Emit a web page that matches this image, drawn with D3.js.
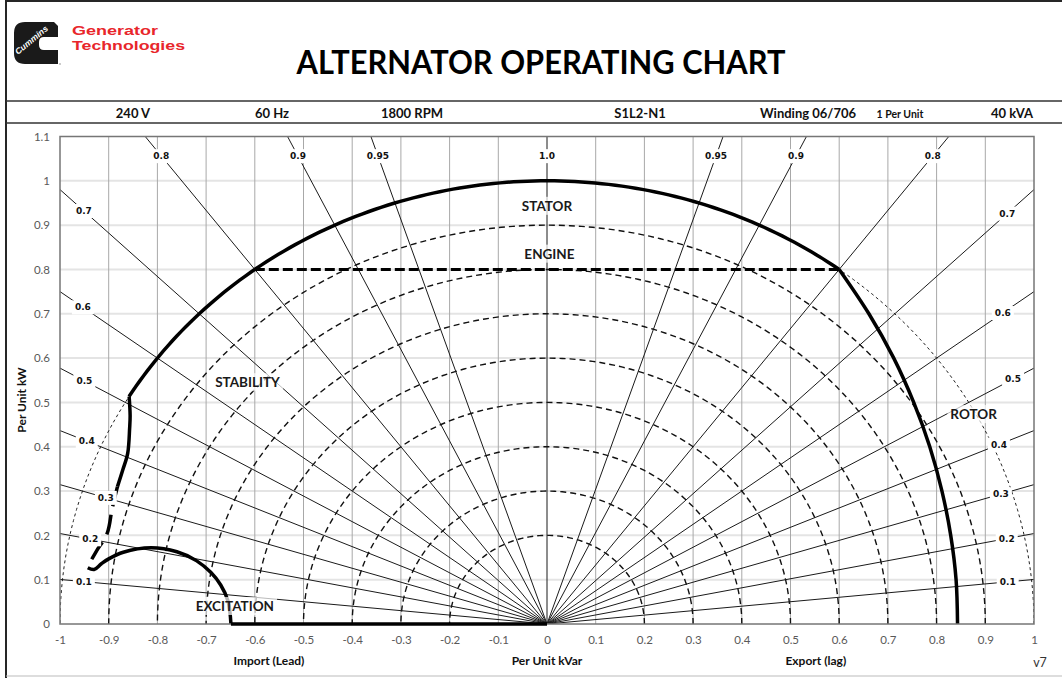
<!DOCTYPE html>
<html lang="en">
<head>
<meta charset="utf-8">
<title>Alternator Operating Chart</title>
<script src="https://cdn.jsdelivr.net/npm/d3@7/dist/d3.min.js"></script>
<style>
body { margin: 0; background: #fff; }
#chart text { font-family: Lato, "Open Sans", sans-serif; }
</style>
</head>
<body>
<div id="chart"></div>
<script>
// ---- data ----
var specText = ['240 V', '60 Hz', '1800 RPM', 'S1L2-N1', 'Winding 06/706', '1 Per Unit', '40 kVA'];
var xTicks = [-1, -0.9, -0.8, -0.7, -0.6, -0.5, -0.4, -0.3, -0.2, -0.1, 0, 0.1, 0.2, 0.3, 0.4, 0.5, 0.6, 0.7, 0.8, 0.9, 1];
var yTicks = [0, 0.1, 0.2, 0.3, 0.4, 0.5, 0.6, 0.7, 0.8, 0.9, 1, 1.1];
var gridX = [-0.9, -0.8, -0.7, -0.6, -0.5, -0.4, -0.3, -0.2, -0.1, 0.1, 0.2, 0.3, 0.4, 0.5, 0.6, 0.7, 0.8, 0.9];
var gridY = [0.1, 0.2, 0.3, 0.4, 0.5, 0.6, 0.7, 0.8, 0.9, 1];

// power factor lines
var pfValues = [0.1, 0.2, 0.3, 0.4, 0.5, 0.6, 0.7, 0.8, 0.9, 0.95, 1.0];
// where the low pf labels sit on their line (kVar)
var pfLabelLeftX = [-0.951, -0.938, -0.906, -0.945, -0.95, -0.953, -0.951];
var pfLabelRightX = [0.946, 0.944, 0.932, 0.928, 0.957, 0.936, 0.945];
var pfLabelTopY = 1.056;

// constant kVA circles
var kvaRadii = [0.2, 0.3, 0.4, 0.5, 0.6, 0.7, 0.8, 0.9];
var statorRadius = 1.0;

// limit curves [kVar, kW]
var statorEnds = [[-0.858, 0.513], [0.6, 0.8]];
var engineLine = [[-0.6, 0.8], [0.6, 0.8]];
var rotorCurve = [[0.6, 0.8], [0.661, 0.7], [0.712, 0.6], [0.753, 0.5], [0.786, 0.4], [0.811, 0.3], [0.829, 0.2], [0.840, 0.1], [0.843, 0]];
var stabilitySolid = [[-0.858, 0.513], [-0.856, 0.47], [-0.857, 0.442], [-0.861, 0.385], [-0.871, 0.348], [-0.882, 0.31]];
var stabilityDashed = [[-0.882, 0.31], [-0.893, 0.26], [-0.903, 0.205], [-0.926, 0.163], [-0.943, 0.13]];
var excitationCurve = [[-0.943, 0.127], [-0.93, 0.123], [-0.915, 0.136], [-0.9, 0.147], [-0.87, 0.162], [-0.813, 0.172], [-0.76, 0.163], [-0.72, 0.143], [-0.69, 0.116], [-0.67, 0.088], [-0.655, 0.052], [-0.649, 0]];
var baseLine = [[-0.649, 0], [0, 0]];

var regionNames = ['STATOR', 'ENGINE', 'STABILITY', 'ROTOR', 'EXCITATION'];
var regionAt = [[0, 0.943], [0.005, 0.835], [-0.615, 0.545], [0.876, 0.473], [-0.641, 0.04]];

// ---- layout ----
var W = 1062, H = 678;
var plot = { left: 60, right: 1034, top: 136.5, bottom: 624 };

var svg = d3.select('#chart').append('svg')
  .attr('width', W)
  .attr('height', H)
  .style('display', 'block');

var x = d3.scaleLinear().domain([-1, 1]).range([plot.left, plot.right]);
var y = d3.scaleLinear().domain([0, 1.1]).range([plot.bottom, plot.top]);

// page frame
svg.append('line').attr('x1', 6).attr('x2', 6).attr('y1', 0).attr('y2', H)
  .attr('stroke', '#262626').attr('stroke-width', 2);
svg.append('line').attr('x1', 6).attr('x2', W).attr('y1', 1).attr('y2', 1)
  .attr('stroke', '#262626').attr('stroke-width', 2);
svg.append('line').attr('x1', 6).attr('x2', W).attr('y1', 101).attr('y2', 101)
  .attr('stroke', '#333').attr('stroke-width', 1.5);
svg.append('line').attr('x1', 6).attr('x2', W).attr('y1', 123).attr('y2', 123)
  .attr('stroke', '#333').attr('stroke-width', 1.5);
svg.append('line').attr('x1', 6).attr('x2', W).attr('y1', 676).attr('y2', 676)
  .attr('stroke', '#bbb').attr('stroke-width', 1);

// logo
var logo = svg.append('g').attr('transform', 'translate(14,22)');
logo.append('path')
  .attr('d', 'M11,0 H40 L44,4 V15 H30 Q25,15 25,20 V23 Q25,28 30,28 H44 V42 H11 Q0,42 0,31 V11 Q0,0 11,0 Z')
  .attr('fill', '#1a1a1a');
logo.append('text')
  .attr('transform', 'translate(4,33) rotate(-40)')
  .attr('fill', '#fff')
  .attr('textLength', 40).attr('lengthAdjust', 'spacingAndGlyphs')
  .style('font-family', 'Liberation Sans, Arial, sans-serif')
  .style('font-size', '8.5px')
  .style('font-weight', 'bold')
  .style('font-style', 'italic')
  .text('Cummins');
logo.append('circle').attr('cx', 46).attr('cy', 42).attr('r', 0.8).attr('fill', '#888');
svg.append('text').attr('x', 72).attr('y', 34.5)
  .attr('fill', '#e8262b')
  .attr('textLength', 86).attr('lengthAdjust', 'spacingAndGlyphs')
  .style('font-family', 'Liberation Sans, Arial, sans-serif')
  .style('font-size', '13.5px').style('font-weight', 'bold')
  .text('Generator');
svg.append('text').attr('x', 72).attr('y', 50)
  .attr('fill', '#e8262b')
  .attr('textLength', 113).attr('lengthAdjust', 'spacingAndGlyphs')
  .style('font-family', 'Liberation Sans, Arial, sans-serif')
  .style('font-size', '13.5px').style('font-weight', 'bold')
  .text('Technologies');

svg.append('text').attr('x', 541).attr('y', 74)
  .attr('text-anchor', 'middle')
  .attr('textLength', 489).attr('lengthAdjust', 'spacingAndGlyphs')
  .style('font-size', '32px').style('font-weight', 'bold')
  .attr('fill', '#000')
  .text('ALTERNATOR OPERATING CHART');

// spec row
var specX = [133, 272, 412, 640, 808, 900, 1012];
svg.append('g').selectAll('text')
  .data(specText)
  .enter().append('text')
  .attr('x', function(d, i) { return specX[i]; })
  .attr('y', 118)
  .attr('text-anchor', 'middle')
  .style('font-size', function(d, i) { return i == 5 ? '10.5px' : '13px'; })
  .style('font-weight', 'bold')
  .attr('fill', '#111')
  .text(function(d) { return d; });

// clip for plot area
svg.append('clipPath').attr('id', 'plotclip')
  .append('rect')
  .attr('x', plot.left).attr('y', plot.top)
  .attr('width', plot.right - plot.left).attr('height', plot.bottom - plot.top);

var g = svg.append('g');
var inner = g.append('g').attr('clip-path', 'url(#plotclip)');

// grid
inner.selectAll('.gy').data(gridY).enter().append('line')
  .attr('x1', plot.left).attr('x2', plot.right)
  .attr('y1', function(d) { return y(d); }).attr('y2', function(d) { return y(d); })
  .attr('stroke', '#e4e4e4').attr('stroke-width', 2);
inner.selectAll('.gx').data(gridX).enter().append('line')
  .attr('x1', function(d) { return x(d); }).attr('x2', function(d) { return x(d); })
  .attr('y1', plot.top).attr('y2', plot.bottom)
  .attr('stroke', '#a8a8a8').attr('stroke-width', 1);

// circle path through the scales
function arcPath(r, a0, a1) {
  var pts = d3.range(0, 121).map(function(i) {
    var a = a0 + (a1 - a0) * i / 120;
    return [r * Math.cos(a), r * Math.sin(a)];
  });
  return d3.line().x(function(d) { return x(d[0]); }).y(function(d) { return y(d[1]); })(pts);
}

// thin dashed stator circle
inner.append('path')
  .attr('d', arcPath(statorRadius, 0, Math.PI))
  .attr('fill', 'none').attr('stroke', '#222').attr('stroke-width', 1)
  .attr('stroke-dasharray', '3,3');

// kVA circles
inner.selectAll('.kva').data(kvaRadii).enter().append('path')
  .attr('d', function(r) { return arcPath(r, 0, Math.PI); })
  .attr('fill', 'none').attr('stroke', '#111').attr('stroke-width', 1.4)
  .attr('stroke-dasharray', '6,4');

// pf lines (both sides)
var pfLines = [];
pfValues.forEach(function(pf, i) {
  var q = Math.sqrt(1 - pf * pf);
  pfLines.push({ pf: pf, q: -q, i: i });
  if (q > 0) pfLines.push({ pf: pf, q: q, i: i });
});
inner.selectAll('.pf').data(pfLines).enter().append('line')
  .attr('x1', x(0)).attr('y1', y(0))
  .attr('x2', function(d) { return x(d.q * 3); })
  .attr('y2', function(d) { return y(d.pf * 3); })
  .attr('stroke', '#1a1a1a').attr('stroke-width', 1);

// limit curves
var line = d3.line().x(function(d) { return x(d[0]); }).y(function(d) { return y(d[1]); });
var smooth = d3.line().curve(d3.curveCatmullRom).x(function(d) { return x(d[0]); }).y(function(d) { return y(d[1]); });

var a0 = Math.atan2(statorEnds[1][1], statorEnds[1][0]);
var a1 = Math.atan2(statorEnds[0][1], statorEnds[0][0]);
g.append('path').attr('d', arcPath(statorRadius, a0, a1))
  .attr('fill', 'none').attr('stroke', '#000').attr('stroke-width', 3.5);
g.append('path').attr('d', line(engineLine))
  .attr('fill', 'none').attr('stroke', '#000').attr('stroke-width', 3)
  .attr('stroke-dasharray', '10,4');
g.append('path').attr('d', smooth(rotorCurve))
  .attr('fill', 'none').attr('stroke', '#000').attr('stroke-width', 3.5);
g.append('path').attr('d', smooth(stabilitySolid))
  .attr('fill', 'none').attr('stroke', '#000').attr('stroke-width', 3.5);
g.append('path').attr('d', smooth(stabilityDashed))
  .attr('fill', 'none').attr('stroke', '#000').attr('stroke-width', 3.5)
  .attr('stroke-dasharray', '20,9');
g.append('path').attr('d', smooth(excitationCurve))
  .attr('fill', 'none').attr('stroke', '#000').attr('stroke-width', 3.5);

// plot frame
g.append('rect')
  .attr('x', plot.left).attr('y', plot.top)
  .attr('width', plot.right - plot.left).attr('height', plot.bottom - plot.top)
  .attr('fill', 'none').attr('stroke', '#767676').attr('stroke-width', 1.5);
g.append('path').attr('d', line(baseLine))
  .attr('fill', 'none').attr('stroke', '#000').attr('stroke-width', 3.5);

// pf labels with white boxes
var pfLabels = [];
pfLines.forEach(function(d) {
  var px, py;
  if (d.pf >= 0.8) {
    py = pfLabelTopY; px = d.q * py / d.pf;
  } else {
    px = d.q < 0 ? pfLabelLeftX[d.i] : pfLabelRightX[d.i];
    py = px * d.pf / d.q;
  }
  pfLabels.push({ text: d.pf.toFixed(d.pf == 0.95 ? 2 : 1), x: px, y: py });
});
var pl = g.selectAll('.pfl').data(pfLabels).enter().append('g')
  .attr('transform', function(d) { return 'translate(' + x(d.x) + ',' + y(d.y) + ')'; });
pl.append('text')
  .attr('text-anchor', 'middle').attr('dy', '0.35em')
  .style('font-family', '"DejaVu Sans", sans-serif')
  .style('font-size', '9px').style('font-weight', 'bold')
  .attr('fill', '#111')
  .text(function(d) { return d.text; });
pl.each(function() {
  var b = d3.select(this).select('text').node().getBBox();
  d3.select(this).insert('rect', 'text')
    .attr('x', b.x - 3).attr('y', b.y - 2)
    .attr('width', b.width + 6).attr('height', b.height + 4)
    .attr('fill', '#fff');
});

// region labels
var rl = g.selectAll('.rl').data(regionNames).enter().append('g')
  .attr('transform', function(d, i) { return 'translate(' + x(regionAt[i][0]) + ',' + y(regionAt[i][1]) + ')'; });
rl.append('text')
  .attr('text-anchor', 'middle').attr('dy', '0.35em')
  .style('font-size', '13.5px').style('font-weight', 'bold')
  .attr('fill', '#1a1a1a')
  .text(function(d) { return d; });
rl.each(function() {
  var b = d3.select(this).select('text').node().getBBox();
  d3.select(this).insert('rect', 'text')
    .attr('x', b.x - 3).attr('y', b.y - 1)
    .attr('width', b.width + 6).attr('height', b.height + 2)
    .attr('fill', '#fff').attr('fill-opacity', 0.7);
});

// axes
var xAxis = g.append('g')
  .attr('transform', 'translate(0,' + plot.bottom + ')')
  .call(d3.axisBottom(x).tickValues(xTicks).tickSize(0).tickPadding(12)
    .tickFormat(function(d) { return String(d); }));
var yAxis = g.append('g')
  .attr('transform', 'translate(' + plot.left + ',0)')
  .call(d3.axisLeft(y).tickValues(yTicks).tickSize(0).tickPadding(10)
    .tickFormat(function(d) { return String(d); }));
[xAxis, yAxis].forEach(function(a) {
  a.select('.domain').remove();
  a.selectAll('text').style('font-size', '11.5px').style('font-family', 'Lato, sans-serif').attr('fill', '#595959');
});

// axis titles
g.append('text').attr('transform', 'translate(26,400) rotate(-90)')
  .attr('text-anchor', 'middle')
  .style('font-size', '12px').style('font-weight', 'bold').attr('fill', '#111')
  .text('Per Unit kW');
var xTitles = ['Import (Lead)', 'Per Unit kVar', 'Export (lag)'];
var xTitleAt = [-0.571, 0, 0.552];
g.selectAll('.xt').data(xTitles).enter().append('text')
  .attr('x', function(d, i) { return x(xTitleAt[i]); })
  .attr('y', 665)
  .attr('text-anchor', 'middle')
  .style('font-size', '12px').style('font-weight', 'bold').attr('fill', '#111')
  .text(function(d) { return d; });
g.append('text').attr('x', 1040).attr('y', 667)
  .attr('text-anchor', 'middle')
  .style('font-size', '12.5px').attr('fill', '#333')
  .text('v7');
</script>
</body>
</html>
